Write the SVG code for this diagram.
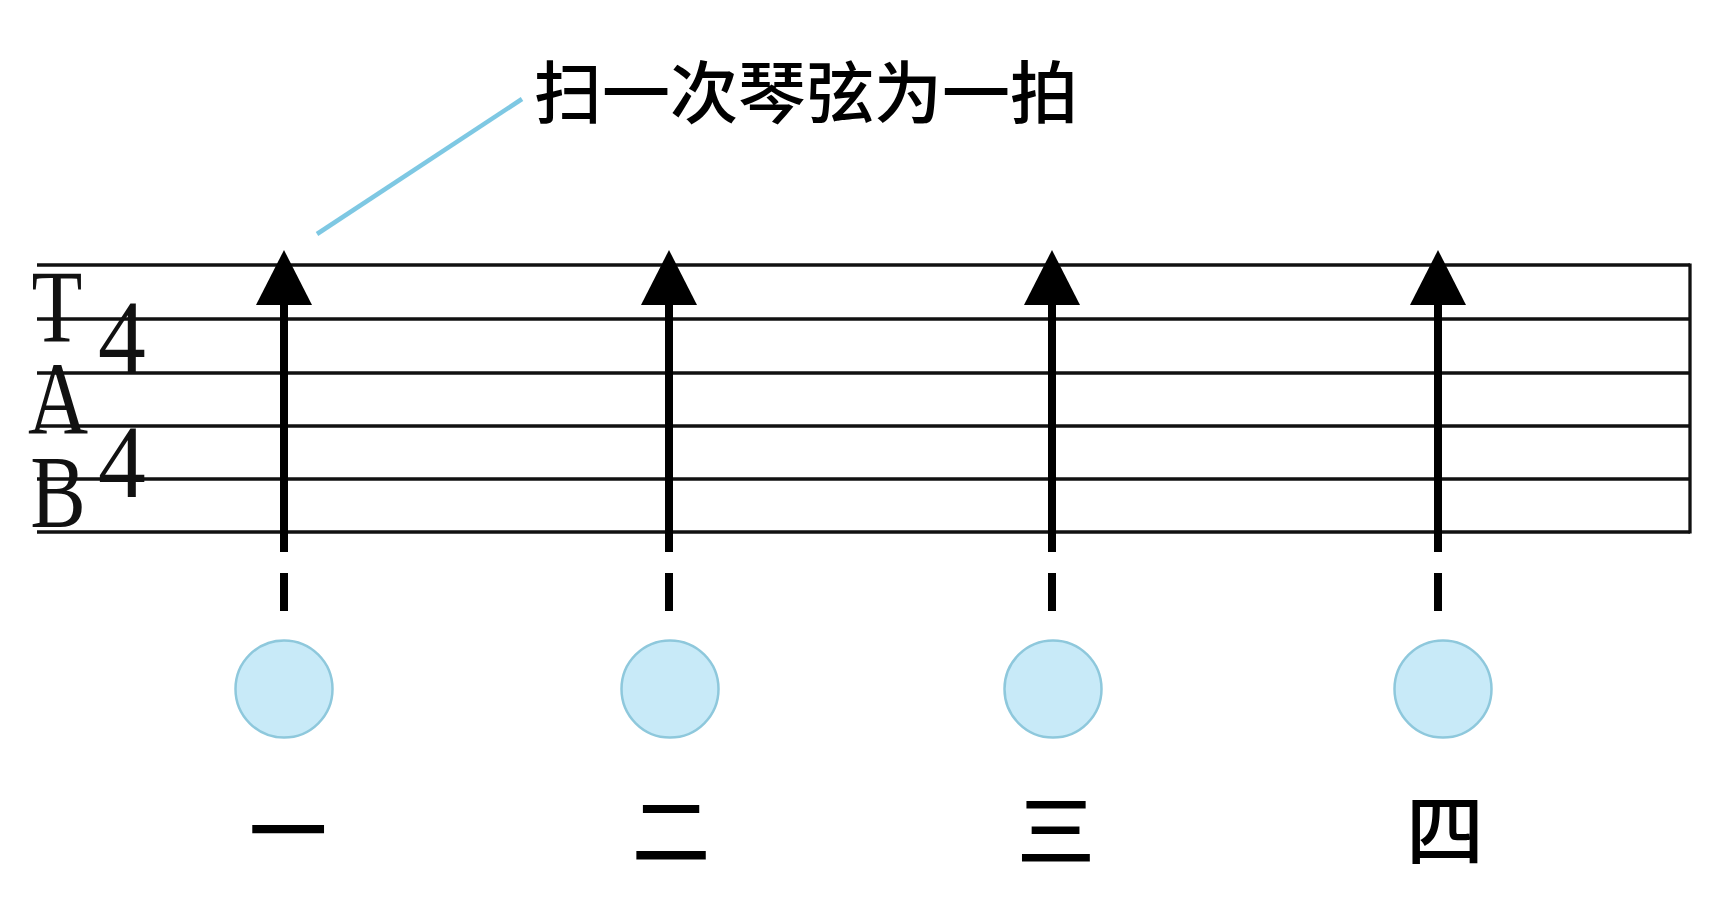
<svg xmlns="http://www.w3.org/2000/svg" width="1731" height="898" viewBox="0 0 1731 898">
<style>
.staff{stroke:#111;stroke-width:3.3;fill:none}
.shaft{stroke:#000;stroke-width:8;fill:none}
.head{fill:#000}
.beat{fill:#c8eaf8;stroke:#8ec8dc;stroke-width:2.5}
.tab{font-family:"Liberation Serif","DejaVu Serif",serif;font-size:104px;fill:#111;text-anchor:middle}
.num{font-family:"Noto Sans CJK SC",sans-serif;font-size:78px;font-weight:500;fill:#000;text-anchor:middle}
.note{font-family:"Noto Sans CJK SC",sans-serif;font-size:68px;font-weight:500;fill:#000;text-anchor:middle}
</style>
<rect width="1731" height="898" fill="#ffffff"/>
<g id="staff">
<line class="staff" x1="37" y1="265" x2="1690" y2="265"/>
<line class="staff" x1="37" y1="319" x2="1690" y2="319"/>
<line class="staff" x1="37" y1="373" x2="1690" y2="373"/>
<line class="staff" x1="37" y1="426" x2="1690" y2="426"/>
<line class="staff" x1="37" y1="479" x2="1690" y2="479"/>
<line class="staff" x1="37" y1="532" x2="1690" y2="532"/>
<line class="staff" x1="1690" y1="263.4" x2="1690" y2="533.6"/>
<text class="tab" transform="translate(57,342) scale(0.8,1)">T</text>
<text class="tab" transform="translate(58,434) scale(0.8,1)">A</text>
<text class="tab" transform="translate(58,527) scale(0.8,1)">B</text>
<text class="tab" transform="translate(122,372) scale(0.92,1)">4</text>
<text class="tab" transform="translate(122,497) scale(0.92,1)">4</text>
</g>
<g id="connectors">
<line x1="317" y1="234" x2="522" y2="99" stroke="#7ec8e3" stroke-width="4.5"/>
<g id="arrow1">
<line class="shaft" x1="284" y1="552" x2="284" y2="300"/>
<polygon class="head" points="284,250 312,305 256,305"/>
<line class="shaft" x1="284" y1="573" x2="284" y2="611"/>
</g>
<g id="arrow2">
<line class="shaft" x1="669" y1="552" x2="669" y2="300"/>
<polygon class="head" points="669,250 697,305 641,305"/>
<line class="shaft" x1="669" y1="573" x2="669" y2="611"/>
</g>
<g id="arrow3">
<line class="shaft" x1="1052" y1="552" x2="1052" y2="300"/>
<polygon class="head" points="1052,250 1080,305 1024,305"/>
<line class="shaft" x1="1052" y1="573" x2="1052" y2="611"/>
</g>
<g id="arrow4">
<line class="shaft" x1="1438" y1="552" x2="1438" y2="300"/>
<polygon class="head" points="1438,250 1466,305 1410,305"/>
<line class="shaft" x1="1438" y1="573" x2="1438" y2="611"/>
</g>
</g>
<g id="label">
<text class="note" x="806" y="118">扫一次琴弦为一拍</text>
</g>
<g id="beat1">
<circle class="beat" cx="284" cy="689" r="48.5"/>
<text class="num" x="288" y="860">一</text>
</g>
<g id="beat2">
<circle class="beat" cx="670" cy="689" r="48.5"/>
<text class="num" x="671" y="860">二</text>
</g>
<g id="beat3">
<circle class="beat" cx="1053" cy="689" r="48.5"/>
<text class="num" x="1056" y="860">三</text>
</g>
<g id="beat4">
<circle class="beat" cx="1443" cy="689" r="48.5"/>
<text class="num" x="1445" y="860">四</text>
</g>
</svg>
